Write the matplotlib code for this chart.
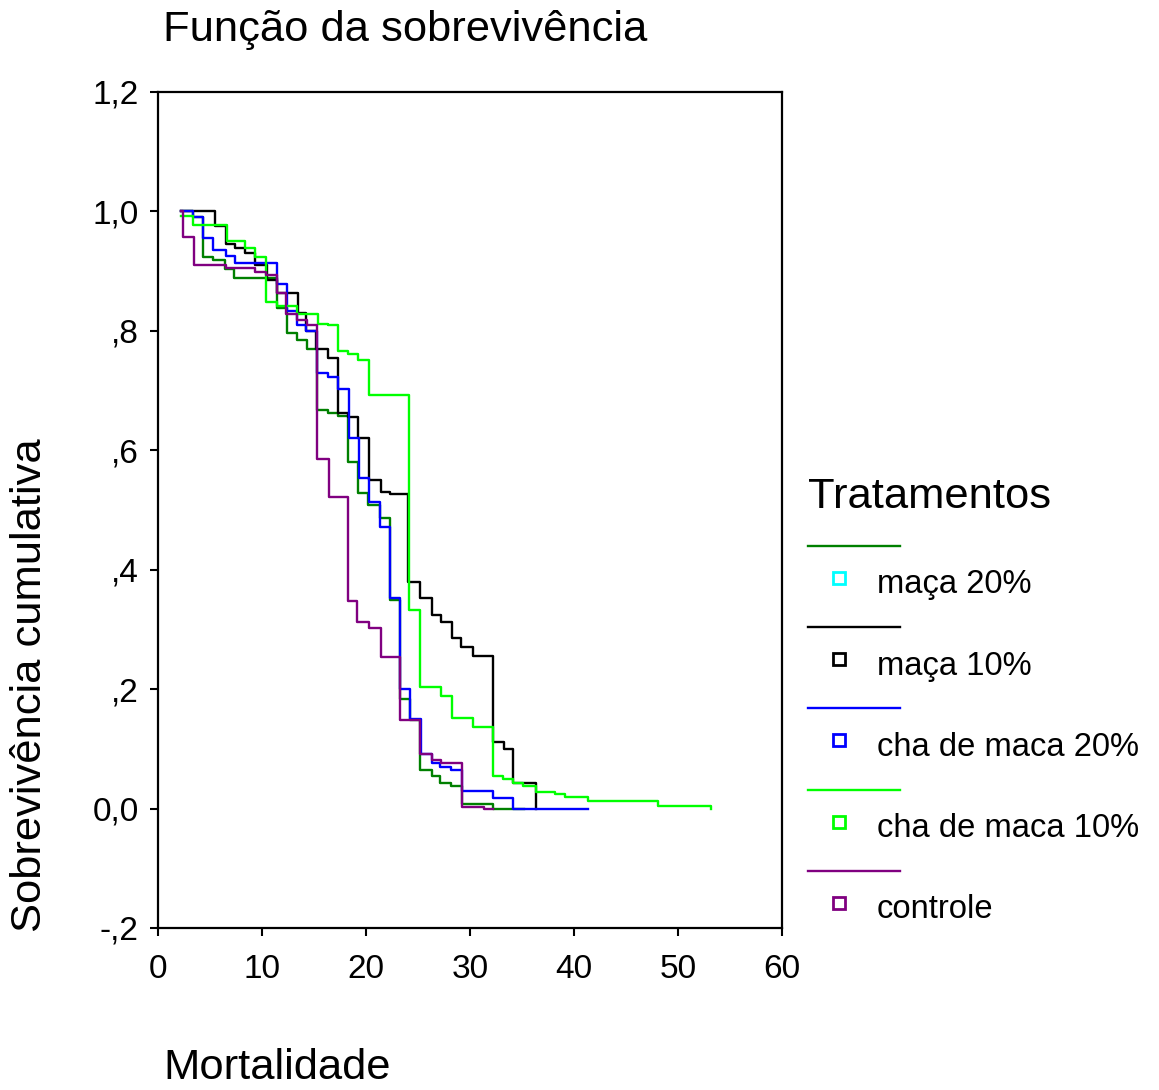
import matplotlib
matplotlib.use("Agg")
import matplotlib.pyplot as plt
from matplotlib.lines import Line2D

plt.rcParams['font.family'] = ['Liberation Sans', 'DejaVu Sans']

# Kaplan-Meier estimates: time of each step and survival after the step
tempo_maca20 = [2.2, 3.4, 4.3, 5.3, 6.4, 7.3, 11.4, 12.4, 13.4, 14.3, 15.3, 16.3, 17.3, 18.3, 19.2,
                20.2, 21.3, 22.3, 23.3, 24.2, 25.2, 26.3, 27.1, 28.2, 29.2, 32.2, 35.2]
sobrev_maca20 = [1.0, 0.99, 0.923, 0.918, 0.903, 0.889, 0.838, 0.796, 0.784, 0.77, 0.667, 0.663, 0.658,
                 0.58, 0.528, 0.508, 0.487, 0.35, 0.184, 0.149, 0.064, 0.055, 0.042, 0.037, 0.008, 0.0, 0.0]

tempo_maca10 = [2.2, 5.5, 6.5, 7.4, 8.4, 9.3, 10.5, 11.4, 13.5, 14.2, 15.2, 16.3, 17.3, 18.3, 19.2,
                20.3, 21.4, 22.3, 24.0, 25.2, 26.3, 27.2, 28.3, 29.1, 30.3, 32.2, 33.3, 34.1, 36.3]
sobrev_maca10 = [1.0, 0.975, 0.946, 0.938, 0.931, 0.91, 0.885, 0.863, 0.83, 0.80, 0.77, 0.755, 0.663,
                 0.655, 0.62, 0.551, 0.53, 0.526, 0.38, 0.353, 0.325, 0.312, 0.286, 0.27, 0.256, 0.111,
                 0.099, 0.042, 0.0]

tempo_cha20 = [2.2, 3.4, 4.3, 5.3, 6.5, 7.4, 11.4, 12.4, 13.4, 14.2, 15.3, 16.3, 17.3, 18.4, 19.3,
               20.3, 21.3, 22.3, 23.3, 24.2, 25.3, 26.3, 27.1, 28.2, 29.2, 32.2, 34.1, 41.3]
sobrev_cha20 = [1.0, 0.99, 0.955, 0.936, 0.925, 0.913, 0.878, 0.834, 0.81, 0.80, 0.729, 0.722, 0.702,
                0.621, 0.553, 0.513, 0.471, 0.352, 0.2, 0.15, 0.092, 0.077, 0.07, 0.064, 0.03, 0.017,
                0.0, 0.0]

tempo_cha10 = [2.2, 3.4, 6.6, 8.4, 9.3, 10.4, 11.4, 13.4, 15.4, 16.3, 17.3, 18.3, 19.2, 20.3, 24.1,
               25.2, 27.2, 28.3, 30.3, 32.2, 33.2, 34.1, 35.1, 36.3, 38.2, 39.1, 41.3, 48.1, 53.2]
sobrev_cha10 = [0.993, 0.978, 0.951, 0.938, 0.923, 0.849, 0.842, 0.828, 0.812, 0.809, 0.766, 0.762,
                0.752, 0.692, 0.333, 0.204, 0.188, 0.152, 0.136, 0.055, 0.05, 0.042, 0.037, 0.028,
                0.025, 0.02, 0.012, 0.004, 0.0]

tempo_controle = [2.2, 2.4, 3.5, 6.5, 9.3, 10.4, 11.4, 12.3, 13.4, 14.3, 15.3, 16.4, 18.3, 19.1, 20.3,
                  21.4, 23.3, 25.2, 26.3, 27.2, 29.2, 31.3, 32.2]
sobrev_controle = [1.0, 0.958, 0.91, 0.905, 0.898, 0.893, 0.864, 0.829, 0.819, 0.809, 0.586, 0.521,
                   0.347, 0.312, 0.303, 0.253, 0.149, 0.092, 0.082, 0.077, 0.003, 0.0, 0.0]

grupos = ['maça 20%', 'maça 10%', 'cha de maca 20%', 'cha de maca 10%', 'controle']
tempos = [tempo_maca20, tempo_maca10, tempo_cha20, tempo_cha10, tempo_controle]
sobrevs = [sobrev_maca20, sobrev_maca10, sobrev_cha20, sobrev_cha10, sobrev_controle]
cores_linha = ['#008000', '#000000', '#0000FF', '#00FF00', '#800080']
cores_marca = ['#00FFFF', '#000000', '#0000FF', '#00FF00', '#800080']

yticks = [-0.2, 0.0, 0.2, 0.4, 0.6, 0.8, 1.0, 1.2]
yticklabels = ['-,2', '0,0', ',2', ',4', ',6', ',8', '1,0', '1,2']
xticks = [0, 10, 20, 30, 40, 50, 60]

fig = plt.figure(figsize=(11.59, 10.9), dpi=100)
ax = fig.add_axes([158 / 1159, 1 - 928 / 1090, 624 / 1159, 836 / 1090])

for t, s, c in zip(tempos, sobrevs, cores_linha):
    ax.step(t, s, where='post', color=c, lw=1.7)

ax.set_xlim(0, 60)
ax.set_ylim(-0.2, 1.2)
ax.set_xticks(xticks)
ax.set_yticks(yticks)
ax.set_yticklabels(yticklabels)
ax.tick_params(axis='both', direction='out', length=6, width=1.5, labelsize=24, colors='black')
ax.tick_params(axis='x', pad=13)
ax.tick_params(axis='y', pad=8)
for sp in ax.spines.values():
    sp.set_linewidth(1.6)
    sp.set_color('black')

fig.text(163 / 1159, 1 - 30 / 1090, 'Função da sobrevivência', fontsize=31.3, ha='left', va='center')
fig.text(163 / 1159, 1 - 1068 / 1090, 'Mortalidade', fontsize=31.3, ha='left', va='center')
fig.text(30 / 1159, 1 - 685 / 1090, 'Sobrevivência cumulativa', fontsize=31.3, rotation=90,
         ha='center', va='center')

# legenda desenhada à parte, em coordenadas de pixel da figura
leg = fig.add_axes([0, 0, 1, 1])
leg.set_xlim(0, 1159)
leg.set_ylim(1090, 0)
leg.axis('off')
leg.text(808, 497, 'Tratamentos', fontsize=31.3, ha='left', va='center')
for i, (nome, cl, cm) in enumerate(zip(grupos, cores_linha, cores_marca)):
    y0 = 546 + 81.2 * i
    leg.add_line(Line2D([808, 900], [y0, y0], color=cl, lw=1.7))
    leg.plot([839], [y0 + 32], marker='s', ms=8, mfc='white', mec=cm, mew=2)
    leg.text(877, y0 + 39, nome, fontsize=23.6, ha='left', va='center')

fig.savefig('out.png', dpi=100)
